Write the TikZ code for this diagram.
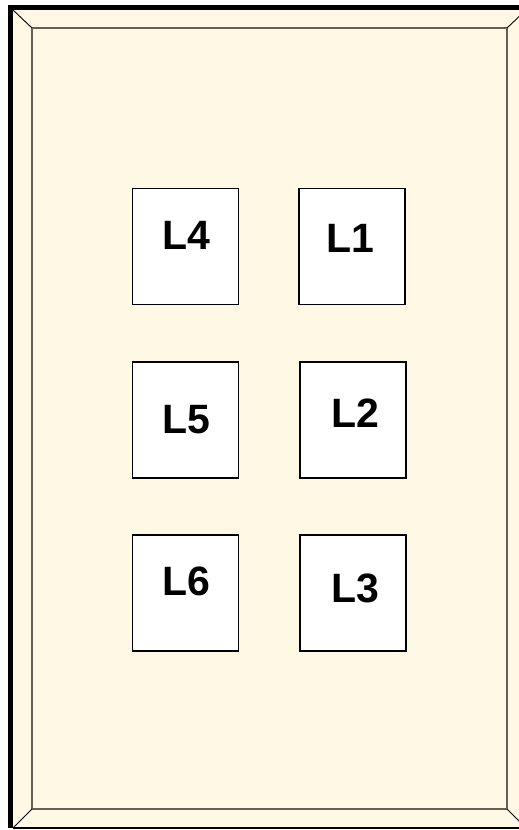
\documentclass[tikz,border=0pt]{standalone}
\usepackage{fontspec}
\setmainfont{Liberation Sans}
\usetikzlibrary{positioning}
\definecolor{plate}{RGB}{255,248,229}
\definecolor{bevel}{RGB}{100,96,84}

\begin{document}
\begin{tikzpicture}[
        x=1pt, y=-1pt,
        pad/.style  = {rectangle, draw, fill=white, line width=1.4pt,
                       minimum width=106pt, minimum height=116pt,
                       inner sep=0pt},
        lbl/.style  = {font=\fontsize{41}{41}\selectfont\bfseries, inner sep=0pt},
        edge/.style = {line width=1.6pt, bevel}
    ]
    \useasboundingbox (0,0) rectangle (519,830);
    \clip (0,0) rectangle (519,830);
    % wall plate
    \fill[plate] (10.5,7.5) rectangle (526,828);
    \coordinate (o1) at (13,10);
    \coordinate (o2) at (526,10);
    \coordinate (o3) at (526,828);
    \coordinate (o4) at (13,828);
    \coordinate (i1) at (32,28);
    \coordinate (i2) at (507,28);
    \coordinate (i3) at (507,809);
    \coordinate (i4) at (32,809);
    \draw[edge] (i1) rectangle (i3);
    \draw[line width=0.9pt] (o1) -- (i1) (o2) -- (i2) (o3) -- (i3) (o4) -- (i4);
    \draw[line width=1.4pt] (o4) -- (o3);
    \draw[line width=5pt] (10.5,828) -- (10.5,7.5) -- (526,7.5);
    % switches
    \node[pad] (p4) at (185.7,246.7) {};
    \node[pad] (p1) at (352,246.7)   {};
    \node[pad] (p5) at (185.7,419.8) {};
    \node[pad] (p2) at (353,419.8)   {};
    \node[pad] (p6) at (185.7,593)   {};
    \node[pad] (p3) at (353,593)     {};
    \node[lbl] (t4) at (186.7,235)   {L4};
    \node[lbl] (t1) at (350,238)     {L1};
    \node[lbl] (t5) at (186.7,420)   {L5};
    \node[lbl] (t2) at (355,413)     {L2};
    \node[lbl] (t6) at (186.7,581.7) {L6};
    \node[lbl] (t3) at (355,588)     {L3};
\end{tikzpicture}
\end{document}
